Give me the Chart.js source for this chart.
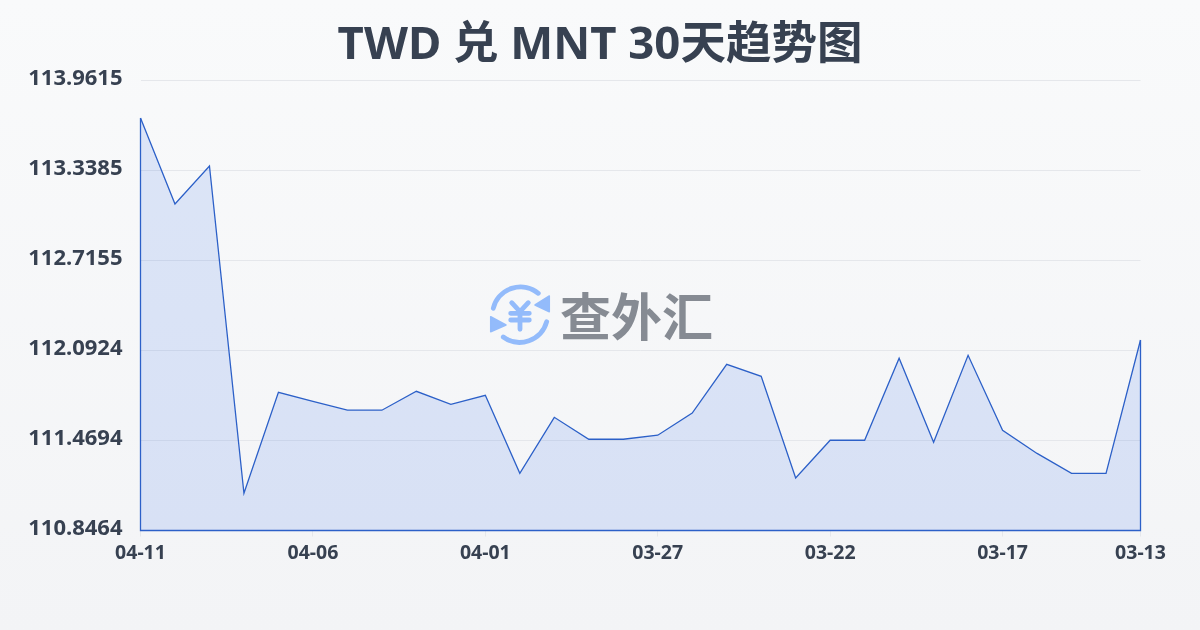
<!DOCTYPE html>
<html lang="zh"><head><meta charset="utf-8">
<script src="https://cdn.jsdelivr.net/npm/chart.js@4/dist/chart.umd.min.js"></script>
<style>
html,body{margin:0;padding:0;width:1200px;height:630px;overflow:hidden}
body{position:relative;background:linear-gradient(180deg,#f9fafb 0%,#f3f4f6 100%);font-family:"Noto Sans","Noto Sans CJK SC",sans-serif}
#wrap{position:absolute;left:0;top:0;width:1200px;height:630px}
#mark{position:absolute;left:485px;top:280px;width:70px;height:70px}
#markText{position:absolute;left:560px;top:278px;font:700 51px/72px "Noto Sans CJK SC",sans-serif;letter-spacing:0;color:#868b93;white-space:nowrap}
</style></head><body>
<svg id="mark" viewBox="0 0 70 70" fill="none" stroke="#93bbfb" stroke-linecap="round" stroke-linejoin="round">
<path d="M8.300 28.300 A28 28 0 0 1 53.300 13.300" stroke-width="4.800"/>
<path d="M61.700 41.700 A28 28 0 0 1 18.300 57" stroke-width="4.800"/>
<path d="M64.300 16 L64.300 31.700 L50 25 Z" fill="#93bbfb" stroke-width="1.500"/>
<path d="M5.700 36.700 L5.700 51.700 L21 45 Z" fill="#93bbfb" stroke-width="1.500"/>
<path d="M26.700 22.700 L35 31.700 L43.300 22.700 M25.700 33.300 H44.300 M25.700 40 H44.300 M35 31.700 V49.300" stroke-width="4.800"/>
</svg>
<div id="markText">查外汇</div>
<div id="wrap"><canvas id="c" width="1200" height="630"></canvas></div>
<script>
const chartTitle = "TWD 兑 MNT 30天趋势图";
const categories = ["04-11","04-10","04-09","04-08","04-07","04-06","04-05","04-04","04-03","04-02","04-01","03-31","03-30","03-29","03-28","03-27","03-26","03-25","03-24","03-23","03-22","03-21","03-20","03-19","03-18","03-17","03-16","03-15","03-14","03-13"];
const rates = [113.702,113.107,113.370,111.104,111.803,111.741,111.679,111.679,111.810,111.720,111.782,111.242,111.630,111.478,111.478,111.506,111.659,111.997,111.914,111.210,111.471,111.471,112.039,111.457,112.059,111.540,111.380,111.242,111.242,112.165];
const yTicks = [110.8464,111.4694,112.0924,112.7155,113.3385,113.9615];
const xTickIndexes = [0,5,10,15,20,25,29];

const lineColor = "#2c60c8";
const textColor = "#374151";
const gridColor = "#e5e7eb";
const fontFamily = '"Noto Sans","Noto Sans CJK SC",sans-serif';

const areaEdges = {
  id:"areaEdges",
  afterDatasetsDraw(chart){
    const {ctx,scales:{x,y}} = chart;
    const x0 = x.getPixelForValue(0), x1 = x.getPixelForValue(rates.length-1);
    const base = y.getPixelForValue(yTicks[0]);
    ctx.save();
    ctx.strokeStyle = lineColor; ctx.lineWidth = 1.300;
    ctx.beginPath();
    ctx.moveTo(x0, y.getPixelForValue(rates[0]));
    ctx.lineTo(x0, base); ctx.lineTo(x1, base);
    ctx.lineTo(x1, y.getPixelForValue(rates[rates.length-1]));
    ctx.stroke();
    ctx.restore();
  }
};

new Chart(document.getElementById("c"),{
  type:"line",
  data:{labels:categories,datasets:[{
    data:rates,
    borderColor:lineColor,borderWidth:1.300,
    pointRadius:0,tension:0,
    fill:"start",
    backgroundColor:"rgba(37,99,235,0.135)"
  }]},
  plugins:[areaEdges],
  options:{
    responsive:false,animation:false,
    layout:{padding:0},
    plugins:{
      legend:{display:false},tooltip:{enabled:false},
      title:{display:true,text:chartTitle,color:textColor,
        font:{family:fontFamily,size:45.500,weight:"700",lineHeight:1.2},
        padding:{top:19,bottom:6.900}}
    },
    scales:{
      x:{
        type:"category",offset:false,
        afterFit(s){s.height=99.5},
        afterBuildTicks(s){s.ticks=xTickIndexes.map(i=>({value:i}))},
        border:{display:false},
        grid:{drawOnChartArea:false,drawTicks:true,tickLength:6,tickColor:gridColor,color:gridColor},
        ticks:{autoSkip:false,maxRotation:0,minRotation:0,padding:5,color:textColor,
          font:{family:fontFamily,size:19.500,weight:"700"},
          callback(v){return categories[v]}}
      },
      y:{
        min:yTicks[0],max:yTicks[yTicks.length-1],
        afterFit(s){s.width=140.5},
        afterBuildTicks(s){s.ticks=yTicks.map(v=>({value:v}))},
        border:{display:false},
        grid:{drawTicks:false,color:gridColor,lineWidth:1},
        ticks:{padding:18,labelOffset:-2,color:textColor,
          font:{family:fontFamily,size:22,weight:"700"},
          callback(v){return v.toFixed(4)}}
      },
      spacer:{
        position:"right",display:true,
        afterFit(s){s.width=59.5},
        border:{display:false},grid:{display:false},
        ticks:{display:false}
      }
    }
  }
});
</script></body></html>
